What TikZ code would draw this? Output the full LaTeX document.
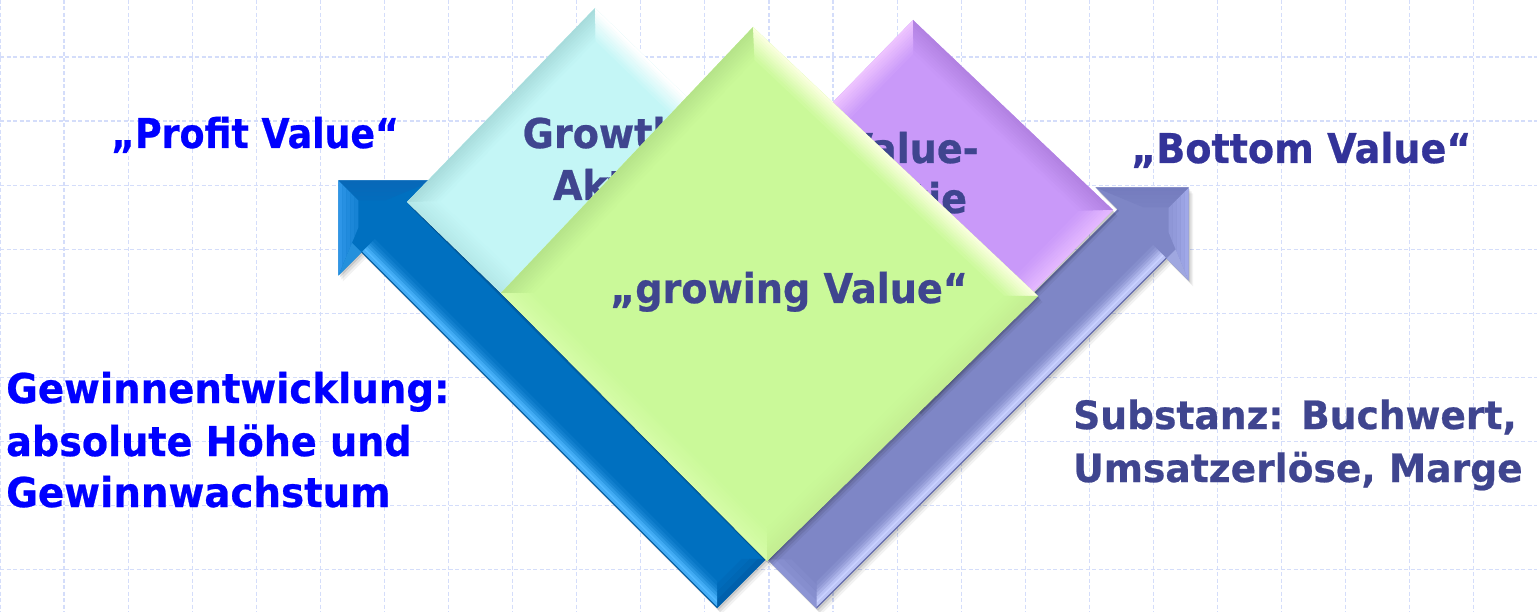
\documentclass[tikz,border=0pt]{standalone}
\usepackage{fontspec}
\usepackage{graphicx}
\usetikzlibrary{calc}
\newfontfamily\tf{DejaVu Sans}[FakeBold=0.6]
\definecolor{gridc}{RGB}{212,221,250}
\definecolor{txtblue}{RGB}{0,0,255}
\definecolor{txtslate}{RGB}{51,51,153}
\definecolor{txtin}{RGB}{63,69,143}
\definecolor{cyanbase}{RGB}{196,246,246}
\definecolor{cyanTL}{RGB}{168,220,220}
\definecolor{cyanTR}{RGB}{255,255,255}
\definecolor{cyanBR}{RGB}{215,255,255}
\definecolor{cyanBL}{RGB}{180,232,232}
\definecolor{purpbase}{RGB}{201,153,249}
\definecolor{purpTL}{RGB}{238,196,255}
\definecolor{purpTR}{RGB}{178,130,226}
\definecolor{purpBR}{RGB}{228,184,255}
\definecolor{purpBL}{RGB}{190,140,240}
\definecolor{greenbase}{RGB}{202,249,153}
\definecolor{greenTL}{RGB}{182,228,138}
\definecolor{greenTR}{RGB}{250,255,222}
\definecolor{greenBR}{RGB}{196,238,146}
\definecolor{greenBL}{RGB}{214,252,168}
\definecolor{bluebase}{RGB}{0,112,192}
\definecolor{bluelight}{RGB}{80,184,255}
\definecolor{bluedark}{RGB}{0,88,156}
\definecolor{blueouter}{RGB}{46,150,232}
\definecolor{blueinner}{RGB}{8,104,184}
\definecolor{blueend}{RGB}{0,96,172}
\definecolor{lavbase}{RGB}{126,134,198}
\definecolor{lavlight}{RGB}{200,208,255}
\definecolor{lavdark}{RGB}{100,108,170}
\definecolor{lavouter}{RGB}{160,168,232}
\definecolor{lavinner}{RGB}{116,124,190}
\definecolor{lavend}{RGB}{140,148,212}

\tikzset{
  gridline/.style={draw=gridc, line width=1.2pt, dash pattern=on 4pt off 2.5pt},
  lbl/.style={inner sep=0pt, font=\tf\bfseries\fontsize{41}{49}\selectfont},
  lblsmall/.style={inner sep=0pt, font=\tf\bfseries\fontsize{39}{47}\selectfont},
}

\newcommand\arrowoutline{(0,0) -- (\aL,0) -- (\aL,{\aW/2-\aH}) -- ({\aL+\aH},{\aW/2}) -- (\aL,{\aW/2+\aH}) -- (\aL,\aW) -- (0,\aW) -- cycle}

\newcommand\drawarrow{%
  \fill[arrbase] \arrowoutline;
  \foreach \ta/\tb/\p in {0/6/100,5.9/12/60,11.9/17/30}{%
    \fill[arrend!\p!arrbase] (\ta,\ta) -- (\tb,\tb) -- (\tb,{\aW-\tb}) -- (\ta,{\aW-\ta}) -- cycle;}
  \fill[arrdark] (0,0) -- (\aL,0) -- (\aL,1.3) -- (1.3,1.3) -- cycle;
  \foreach \ta/\tb/\p in {1.2/3.5/85,3.4/6/100,5.9/8.5/80,8.4/11/58,10.9/13.5/38,13.4/16/22,15.9/19/10}{%
    \fill[arrlight!\p!arrbase] (\ta,\ta) -- (\aL,\ta) -- (\aL,\tb) -- (\tb,\tb) -- cycle;}
  \fill[arrdark!70!arrbase] (1,{\aW-2}) -- (\aL,{\aW-2}) -- (\aL,\aW) -- (0,\aW) -- cycle;
  \foreach \a/\b/\p in {0/4.1/100,4/8.1/85,8/12.1/72,12/16.1/60,16/20/50}{%
    \fill[arrouter!\p!arrbase] ({\aL+\a},{\aW/2-\aH+\a*2.4142}) -- ({\aL+\aH-\a*1.4142},{\aW/2}) -- ({\aL+\aH-\b*1.4142},{\aW/2}) -- ({\aL+\b},{\aW/2-\aH+\b*2.4142}) -- cycle;
    \fill[arrinner!\p!arrbase] ({\aL+\a},{\aW/2+\aH-\a*2.4142}) -- ({\aL+\aH-\a*1.4142},{\aW/2}) -- ({\aL+\aH-\b*1.4142},{\aW/2}) -- ({\aL+\b},{\aW/2+\aH-\b*2.4142}) -- cycle;}
  \fill[arrlight!45!arrbase] (\aL,{\aW/2-\aH}) -- ({\aL+(\aH-\aW/2)/2.4142},0) -- (\aL,0) -- cycle;
}

\newcommand\bevelquad[6]{%
  \fill[#2] (#1T) -- (#1R) -- (#1B) -- (#1L) -- cycle;
  \foreach \k in {0,...,9}{%
    \pgfmathsetmacro\bva{1-\k*\bwf/10}%
    \pgfmathsetmacro\bvb{1-(\k+1)*\bwf/10-0.003}%
    \pgfmathtruncatemacro\bvp{100-\k*10}%
    \fill[#3!\bvp!#2] ($(#1C)!\bva!(#1L)$) -- ($(#1C)!\bva!(#1T)$) -- ($(#1C)!\bvb!(#1T)$) -- ($(#1C)!\bvb!(#1L)$) -- cycle;
    \fill[#4!\bvp!#2] ($(#1C)!\bva!(#1T)$) -- ($(#1C)!\bva!(#1R)$) -- ($(#1C)!\bvb!(#1R)$) -- ($(#1C)!\bvb!(#1T)$) -- cycle;
    \fill[#5!\bvp!#2] ($(#1C)!\bva!(#1R)$) -- ($(#1C)!\bva!(#1B)$) -- ($(#1C)!\bvb!(#1B)$) -- ($(#1C)!\bvb!(#1R)$) -- cycle;
    \fill[#6!\bvp!#2] ($(#1C)!\bva!(#1B)$) -- ($(#1C)!\bva!(#1L)$) -- ($(#1C)!\bvb!(#1L)$) -- ($(#1C)!\bvb!(#1B)$) -- cycle;
  }}

\newcommand\quadshadow[1]{%
  \foreach \dx/\dy/\op in {1.5/2/0.10,3/4/0.08,4.5/6/0.05}{%
    \fill[black,opacity=\op] ([shift={(\dx pt,-\dy pt)}]#1T) -- ([shift={(\dx pt,-\dy pt)}]#1R) -- ([shift={(\dx pt,-\dy pt)}]#1B) -- ([shift={(\dx pt,-\dy pt)}]#1L) -- cycle;}}

\begin{document}
\begin{tikzpicture}[x=1pt,y=-1pt]
\useasboundingbox (0,0) rectangle (1537,612);
\fill[white] (0,0) rectangle (1537,612);
\foreach \i in {0,...,24}{\draw[gridline] ({\i*64.08},0) -- ({\i*64.08},612);}
\foreach \j in {0,...,8}{\draw[gridline] (0,{57+\j*64.08}) -- (1537,{57+\j*64.08});}

% ---------- blue arrow ("Profit Value")
\def\aL{502.8}\def\aH{67.2}\def\aW{69.3}
\foreach \dx/\dy/\op in {1.5/2/0.10,3/4/0.08,4.5/6/0.05}{%
  \begin{scope}[shift={(\dx pt,-\dy pt)}]
  \begin{scope}[x=1pt,y=1pt,cm={-0.7071,0.7071,0.7071,0.7071,(717pt,-608pt)}]
    \fill[black,opacity=\op] \arrowoutline;
  \end{scope}
  \end{scope}}
\colorlet{arrbase}{bluebase}\colorlet{arrlight}{bluelight}\colorlet{arrdark}{bluedark}
\colorlet{arrouter}{blueouter}\colorlet{arrinner}{blueinner}\colorlet{arrend}{blueend}
\begin{scope}[x=1pt,y=1pt,cm={-0.7071,0.7071,0.7071,0.7071,(717pt,-608pt)}]
  \drawarrow
\end{scope}

% ---------- lavender arrow ("Bottom Value")
\def\aL{495}\def\aH{65.8}\def\aW{69.3}
\foreach \dx/\dy/\op in {1.5/2/0.10,3/4/0.08,4.5/6/0.05}{%
  \begin{scope}[shift={(\dx pt,-\dy pt)}]
  \begin{scope}[x=1pt,y=1pt,cm={0.7071,0.7071,-0.7071,0.7071,(816.5pt,-608.5pt)}]
    \fill[black,opacity=\op] \arrowoutline;
  \end{scope}
  \end{scope}}
\colorlet{arrbase}{lavbase}\colorlet{arrlight}{lavlight}\colorlet{arrdark}{lavdark}
\colorlet{arrouter}{lavouter}\colorlet{arrinner}{lavinner}\colorlet{arrend}{lavend}
\begin{scope}[x=1pt,y=1pt,cm={0.7071,0.7071,-0.7071,0.7071,(816.5pt,-608.5pt)}]
  \drawarrow
\end{scope}

% ---------- cyan diamond (Growth-Aktie)
\coordinate (cT) at (595,8);
\coordinate (cR) at (789,196);
\coordinate (cB) at (601,390);
\coordinate (cL) at (407,202);
\coordinate (cC) at (598,199);
\quadshadow{c}
\def\bwf{0.17}
\bevelquad{c}{cyanbase}{cyanTL}{cyanTR}{cyanBR}{cyanBL}
\node[lbl, text=txtin, anchor=base] (g1) at (609,148) {\scalebox{0.93}[1]{Growth-}};
\node[lbl, text=txtin, anchor=base] (g2) at (609,200) {\scalebox{0.93}[1]{Aktie}};

% ---------- purple diamond (Value-Aktie)
\coordinate (pT) at (913,20);
\coordinate (pR) at (1113,210);
\coordinate (pB) at (918,410);
\coordinate (pL) at (718,220);
\coordinate (pC) at (915.5,215);
\quadshadow{p}
\def\bwf{0.17}
\bevelquad{p}{purpbase}{purpTL}{purpTR}{purpBR}{purpBL}
\node[lbl, text=txtin, anchor=base] (v1) at (911,163) {\scalebox{0.93}[1]{Value-}};
\node[lbl, text=txtin, anchor=base] (v2) at (911,213) {\scalebox{0.93}[1]{Aktie}};

% ---------- green diamond (growing Value)
\coordinate (gT) at (753,27);
\coordinate (gR) at (1038,296);
\coordinate (gB) at (767,561);
\coordinate (gL) at (501,293);
\coordinate (gC) at (765,294);
\quadshadow{g}
\def\bwf{0.12}
\bevelquad{g}{greenbase}{greenTL}{greenTR}{greenBR}{greenBL}
\node[lbl, text=txtin, anchor=base west] (gv) at (610,303) {\scalebox{0.93}[1]{„growing Value“}};

% ---------- outer labels
\node[lbl, text=txtblue, anchor=base west] (pv) at (111,148) {\scalebox{0.886}[1]{„Profit Value“}};
\node[lbl, text=txtslate, anchor=base west] (bv) at (1131,163) {\scalebox{0.93}[1]{„Bottom Value“}};
\node[lbl, text=txtblue, anchor=base west] (l1) at (6,403) {\scalebox{0.943}[1]{Gewinnentwicklung:}};
\node[lbl, text=txtblue, anchor=base west] (l2) at (6,456) {\scalebox{0.93}[1]{absolute Höhe und}};
\node[lbl, text=txtblue, anchor=base west] (l3) at (6,507) {\scalebox{0.945}[1]{Gewinnwachstum}};
\node[lblsmall, text=txtin, anchor=base west] (r1) at (1073,429) {\scalebox{0.965}[1]{Substanz: Buchwert,}};
\node[lblsmall, text=txtin, anchor=base west] (r2) at (1073,482) {\scalebox{0.965}[1]{Umsatzerlöse, Marge}};
\end{tikzpicture}
\end{document}
